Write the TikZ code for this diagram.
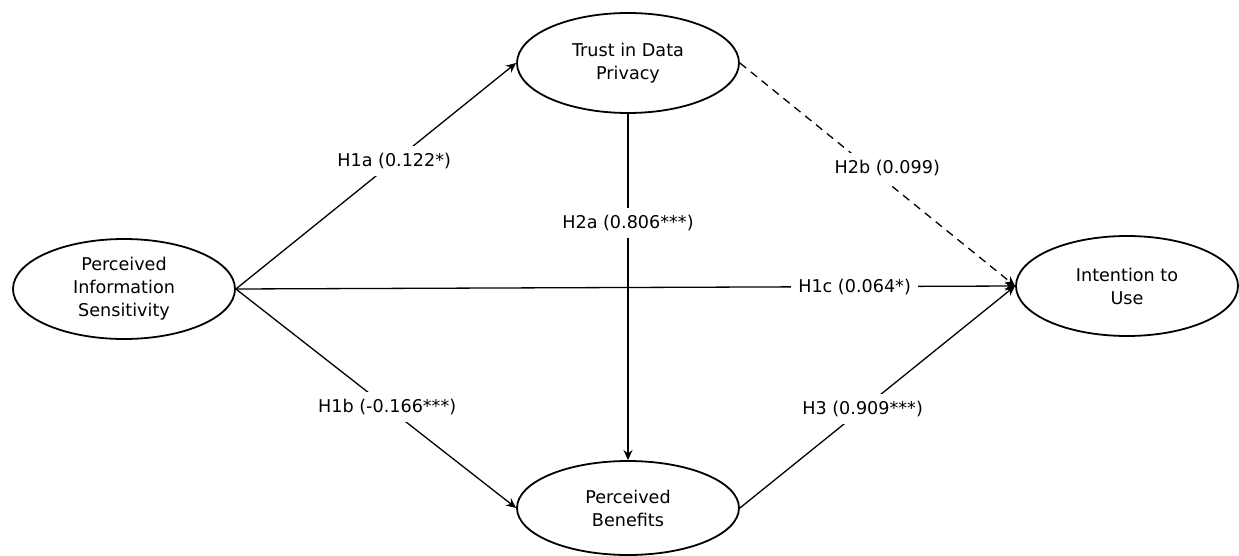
\documentclass[tikz,border=0pt]{standalone}
\usepackage{fontspec}
\setmainfont{DejaVu Sans}
\usepackage{tikz}
\usetikzlibrary{shapes.geometric}
\usetikzlibrary{arrows.meta}
\usetikzlibrary{positioning, calc}

\tikzset{
    construct/.style={ellipse, draw, line width=0.9pt, inner sep=0pt,
        minimum width=111pt, minimum height=50pt, align=center,
        font=\fontsize{8.8}{11.5}\selectfont},
    link/.style={-{Stealth[length=5pt, width=4.5pt]}, line width=0.65pt},
    coef/.style={fill=white, inner sep=3.5pt, font=\fontsize{8.8}{10}\selectfont}
}

\begin{document}
\begin{tikzpicture}[x=0.5pt, y=-0.5pt]
\useasboundingbox (0,0) rectangle (1239,556);

\node[construct] (pis) at (124, 289) {Perceived\\Information\\Sensitivity};
\node[construct] (tdp) at (628, 63) {Trust in Data\\Privacy};
\node[construct, minimum height=47pt] (pb) at (628, 508) {Perceived\\Benefits};
\node[construct] (itu) at (1127, 286) {Intention to\\Use};

\draw [link] (pis.east) to node[coef, pos=0.565] {H1a (0.122*)} (tdp.west);
\draw [link] (pis.east) to node[coef, pos=0.54] {H1b (-0.166***)} (pb.west);
\draw [link] (pis.east) to node[coef, pos=0.794] {H1c (0.064*)} (itu.west);
\draw [link] (tdp.south) to node[coef, pos=0.315] {H2a (0.806***)} (pb.north);
\draw [link, dash pattern=on 4pt off 3pt] (tdp.east) to node[coef, pos=0.47, xshift=9pt] {H2b (0.099)} (itu.west);
\draw [link] (pb.east) to node[coef, pos=0.446] {H3 (0.909***)} (itu.west);

\end{tikzpicture}
\end{document}
